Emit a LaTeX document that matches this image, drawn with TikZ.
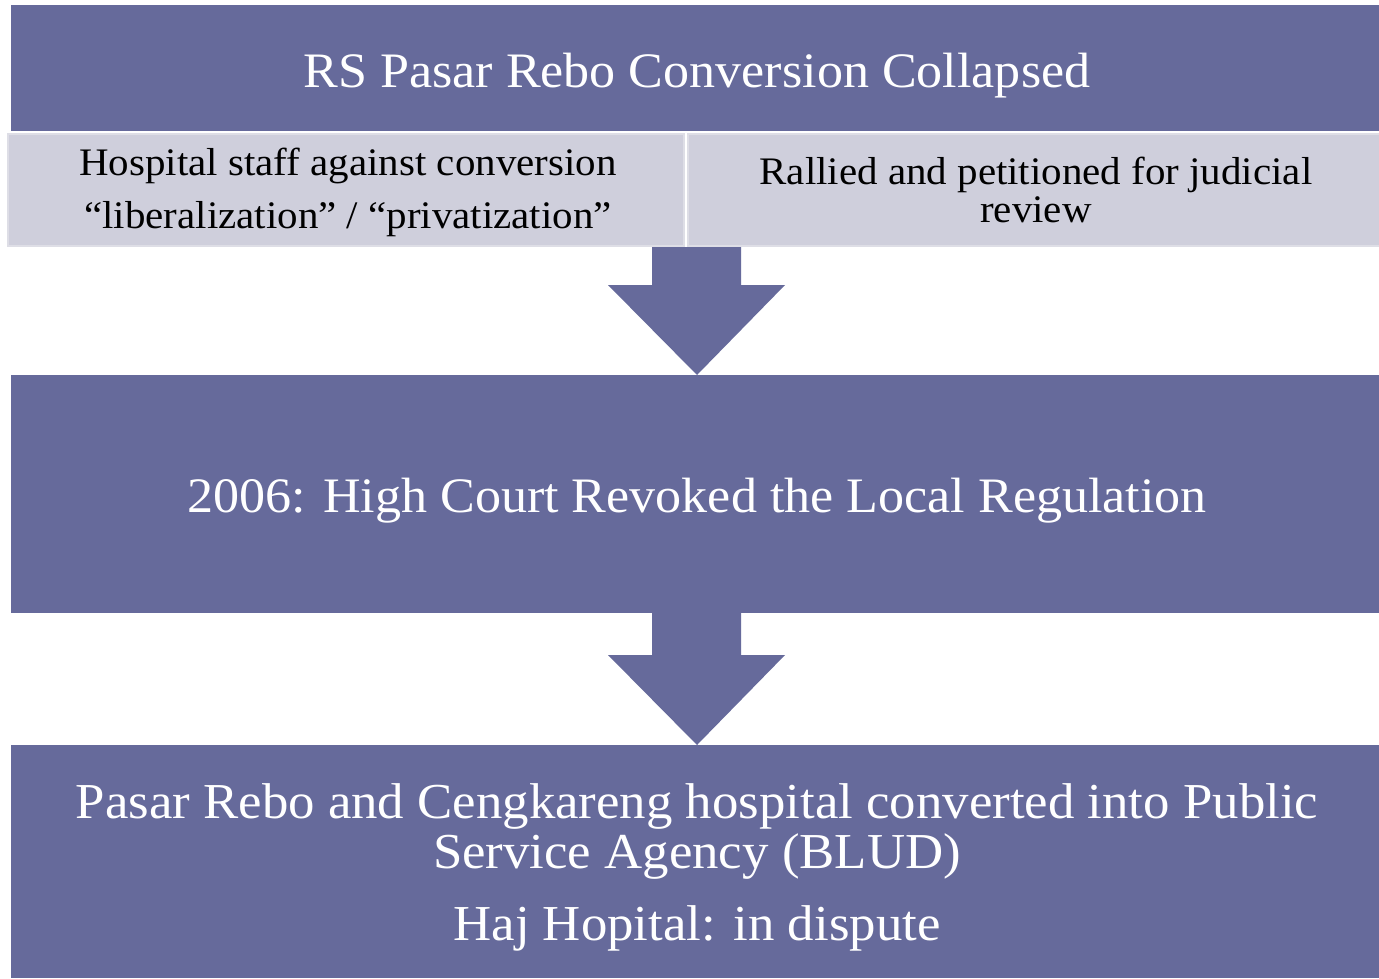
\documentclass[tikz,border=0pt]{standalone}
\usepackage{fontspec}
\setmainfont{Liberation Serif}[FakeStretch=1.05]
\definecolor{bluebox}{HTML}{666A9B}
\definecolor{graybox}{HTML}{CFCFDC}
\definecolor{grayline}{HTML}{DEDEE6}
\tikzset{
  bluerect/.style={fill=bluebox, draw=none, inner sep=0pt, outer sep=0pt},
  grayrect/.style={fill=graybox, draw=grayline, line width=2pt, inner sep=0pt, outer sep=0pt},
  whitetxt/.style={text=white, anchor=base, inner sep=0pt},
  blacktxt/.style={text=black, anchor=base, inner sep=0pt},
  blockarrow/.style={fill=bluebox, draw=none},
}
\begin{document}
\begin{tikzpicture}[x=1pt,y=-1pt]
\useasboundingbox (0,0) rectangle (1379,978);
\fill[white] (0,0) rectangle (1379,978);
% boxes
\node[bluerect, minimum width=1368pt, minimum height=126pt] (top) at (695,68) {};
\node[grayrect, minimum width=676pt, minimum height=112pt] (gl) at (346,190) {};
\node[grayrect, minimum width=692pt, minimum height=112pt] (gr) at (1034,190) {};
\node[bluerect, minimum width=1368pt, minimum height=238pt] (mid) at (695,494) {};
\node[bluerect, minimum width=1368pt, minimum height=233pt] (bot) at (695,861.5) {};
% block arrows
\fill[blockarrow] (652,247) -- (741,247) -- (741,285) -- (785,285) -- (697,375) -- (608,285) -- (652,285) -- cycle;
\fill[blockarrow] (652,613) -- (741,613) -- (741,655) -- (785,655) -- (697,745) -- (608,655) -- (652,655) -- cycle;
% texts
\node[whitetxt, font=\fontsize{49.6}{60}\selectfont] (t1) at (697,87) {RS Pasar Rebo Conversion Collapsed};
\node[blacktxt, font=\fontsize{39}{46}\selectfont] (t2) at (348,175) {Hospital staff against conversion};
\node[blacktxt, font=\fontsize{39}{46}\selectfont] (t3) at (348,228) {“liberalization” / “privatization”};
\node[blacktxt, font=\fontsize{39}{46}\selectfont] (t4) at (1036,184) {Rallied and petitioned for judicial};
\node[blacktxt, font=\fontsize{39}{46}\selectfont] (t5) at (1036,222) {review};
\node[whitetxt, font=\fontsize{49.6}{60}\selectfont] (t6) at (697,512) {2006: High Court Revoked the Local Regulation};
\node[whitetxt, font=\fontsize{50.3}{58}\selectfont] (t7) at (697,818) {Pasar Rebo and Cengkareng hospital converted into Public};
\node[whitetxt, font=\fontsize{50.3}{58}\selectfont] (t8) at (697,868) {Service Agency (BLUD)};
\node[whitetxt, font=\fontsize{50.3}{58}\selectfont] (t9) at (697,940) {Haj Hopital: in dispute};
\end{tikzpicture}
\end{document}
